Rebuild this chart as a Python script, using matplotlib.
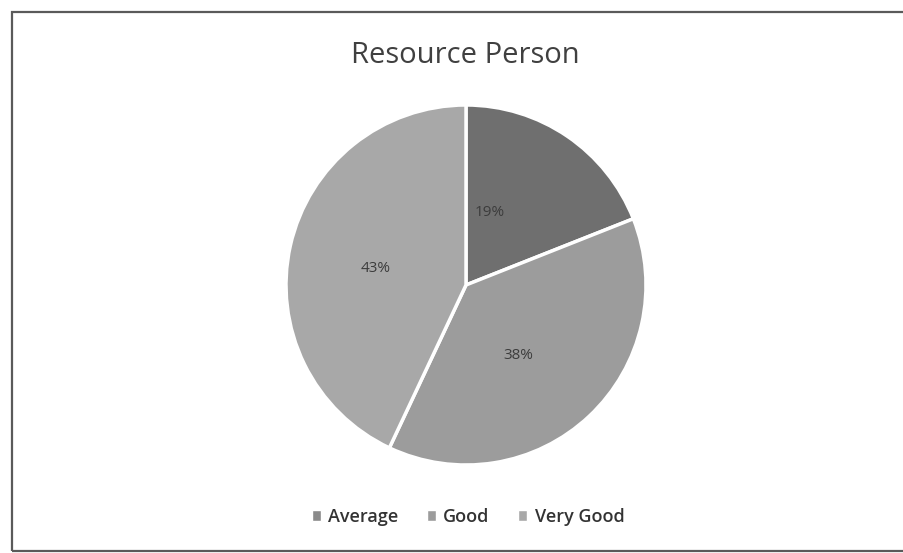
import matplotlib.pyplot as plt
from matplotlib.patches import Rectangle

# data
labels = ['Average', 'Good', 'Very Good']
shares = [19, 38, 43]
colors = ['#6f6f6f', '#9c9c9c', '#a8a8a8']
legend_colors = ['#8a8a8a', '#9c9c9c', '#a8a8a8']

plt.rcParams['font.family'] = ['Open Sans', 'DejaVu Sans']

fig = plt.figure(figsize=(9.04, 5.53), dpi=100)
fig.patch.set_facecolor('white')

# chart border (right side runs off the scan)
fig.patches.append(Rectangle((12 / 904, 2 / 553), 900 / 904, 539 / 553,
                             transform=fig.transFigure, fill=False,
                             edgecolor='#5a5a5a', linewidth=1.6))

fig.text(465 / 904, 1 - 55 / 553, 'Resource Person', ha='center', va='center',
         fontsize=21, color='#404040')

# pie: center ~ (466, 285), radius ~180 px
ax = fig.add_axes([(466 - 180) / 904, 1 - (285 + 180) / 553, 360 / 904, 360 / 553])
wedges, texts = ax.pie(shares, colors=colors, startangle=90, counterclock=False,
                       wedgeprops=dict(edgecolor='white', linewidth=2.5))
ax.set_aspect('equal')
ax.set_xlim(-1, 1)
ax.set_ylim(-1, 1)

# percentage labels
label_pos = [(0.13, 0.40), (0.29, -0.39), (-0.50, 0.09)]
for (x, y), v in zip(label_pos, shares):
    ax.text(x, y, f'{v}%', ha='center', va='center', fontsize=11, color='#3c3c3c')

handles = [Rectangle((0, 0), 1, 1, facecolor=c, edgecolor='white') for c in legend_colors]
fig.legend(handles, labels, loc='center', bbox_to_anchor=(468 / 904, 1 - 517 / 553),
           ncol=3, frameon=False, fontsize=13, handlelength=0.5, handleheight=0.5,
           handletextpad=0.4, columnspacing=1.6, labelcolor='#333333',
           prop=dict(size=13, weight='semibold'))

fig.savefig('out.png', dpi=100, facecolor='white')
